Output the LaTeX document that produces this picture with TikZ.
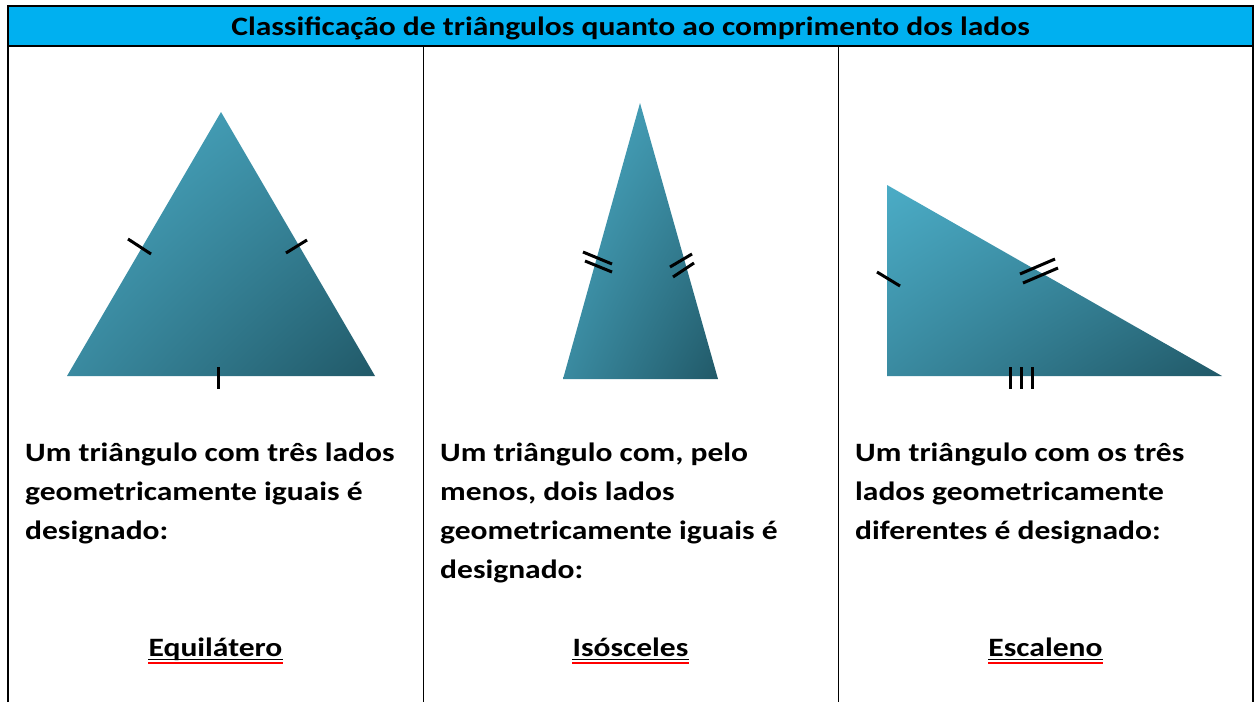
\documentclass[tikz,border=0pt]{standalone}
\usepackage{fontspec}
\setmainfont{Carlito}[FakeStretch=1.19]
\usetikzlibrary{calc,shadings}
\definecolor{cabecalho}{HTML}{00B0F0}
\definecolor{claro}{HTML}{4BACC6}
\definecolor{medio}{HTML}{3A8AA0}
\definecolor{escuro}{HTML}{215968}
\tikzset{
  marca/.style={line width=3pt, black},
  texto/.style={anchor=base west, inner sep=0pt, align=left, font=\bfseries\fontsize{26.5}{39}\selectfont},
  rotulo/.style={anchor=base, inner sep=0pt, font=\bfseries\fontsize{26.5}{31}\selectfont},
  triangulo/.style={upper left=claro, upper right=medio, lower left=medio, lower right=escuro}
}

\begin{document}
\begin{tikzpicture}[x=1pt,y=-1pt]
\useasboundingbox (0,0) rectangle (1258,702);

% header
\fill[cabecalho] (8,6) rectangle (1253,46);
\node[rotulo] (titulo) at (630.5,35) {Classificação de triângulos quanto ao comprimento dos lados};

% frame and columns
\draw[line width=1.5pt] (8,702) -- (8,6) -- (1253,6) -- (1253,702);
\draw[line width=1.5pt] (8,46) -- (1253,46);
\draw[line width=0.9pt] (423,46) -- (423,702);
\draw[line width=0.9pt] (838,46) -- (838,702);

% equilateral
\coordinate (A) at (221,112);
\coordinate (B) at (67,376);
\coordinate (C) at (375,376);
\shade[triangulo] (A) -- (B) -- (C) -- cycle;
% A to B
\draw[marca] (128,239) -- (151,254);
% A to C
\draw[marca] (286,253) -- (307,240);
% B to C
\draw[marca] (218,367) -- (218,389);

% isosceles
\coordinate (D) at (640,103);
\coordinate (E) at (563,379);
\coordinate (F) at (718,379);
\shade[triangulo] (D) -- (E) -- (F) -- cycle;
% D to E
\draw[marca] (583,252) -- (612,264);
\draw[marca] (585,261) -- (612,272);
% D to F
\draw[marca] (670,267) -- (692,254);
\draw[marca] (673,277) -- (694,263);

% scalene
\coordinate (G) at (887,185);
\coordinate (H) at (887,376);
\coordinate (I) at (1222,376);
\shade[triangulo] (G) -- (H) -- (I) -- cycle;
% G to H
\draw[marca] (877,272) -- (900,286);
% G to I
\draw[marca] (1020,274) -- (1055,259);
\draw[marca] (1023,283) -- (1058,268);
% H to I
\draw[marca] (1010,367) -- (1010,389);
\draw[marca] (1021,367) -- (1021,389);
\draw[marca] (1032,367) -- (1032,389);

% texts (anchored on the last line)
\node[texto] (t1) at (25,539) {Um triângulo com três lados\\geometricamente iguais é\\designado:};
\node[texto] (t2) at (440,578) {Um triângulo com, pelo\\menos, dois lados\\geometricamente iguais é\\designado:};
\node[texto] (t3) at (855,539) {Um triângulo com os três\\lados geometricamente\\diferentes é designado:};

% answers
\node[rotulo] (equi) at (215.5,656) {Equilátero};
\node[rotulo] (isos) at (630.5,656) {Isósceles};
\node[rotulo] (esca) at (1045.5,656) {Escaleno};
\foreach \r in {equi,isos,esca}{
  \draw[line width=1pt] ([yshift=-3pt]\r.base west) -- ([yshift=-3pt]\r.base east);
  \draw[red, line width=1.5pt] ([yshift=-7pt]\r.base west) -- ([yshift=-7pt]\r.base east);
}
\end{tikzpicture}
\end{document}
